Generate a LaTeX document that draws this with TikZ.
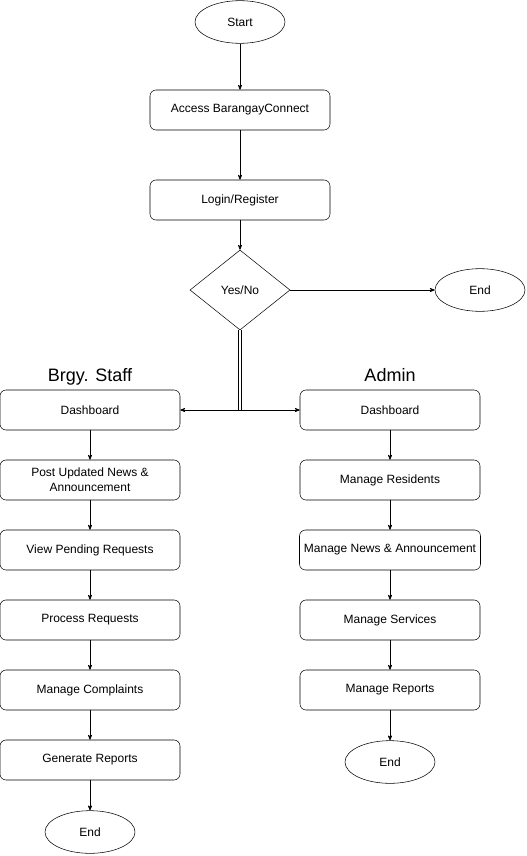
\documentclass[tikz,border=0pt]{standalone}
\usepackage{fontspec}
\setmainfont{Liberation Sans}
\usepackage{tikz}
\usetikzlibrary{shapes.geometric, positioning, arrows}
\tikzset{
->, % makes the edges directed
>=stealth', % arrow heads
line width=0.75pt,
node distance=67.5pt, % distance between the centres of two nodes
every node/.style={font=\fontsize{9}{11}\selectfont},
proc/.style={draw, rectangle, rounded corners=4.5pt, minimum width=135pt, minimum height=30pt, align=center}, % process boxes
term/.style={draw, ellipse, minimum width=67.5pt, minimum height=32pt}, % start and end
choice/.style={draw, diamond, minimum width=75pt, minimum height=60pt, inner sep=0pt}, % decision
title/.style={font=\fontsize{13.5}{16}\selectfont, text height=10pt, text depth=3pt}, % column headings
}

\begin{document}
\begin{tikzpicture}[x=0.75pt, y=-0.75pt]
    \useasboundingbox (0,0) rectangle (527,856);
    \node[term] (start) at (240,22) {Start};
    \node[proc, below of=start, yshift=1.5pt] (access) {Access BarangayConnect};
    \node[proc, below of=access] (login) {Login/Register};
    \node[choice, below of=login] (yn) {Yes/No};
    \node[term, right of=yn, node distance=180pt] (endr) {End};
    \node[proc, below of=yn, node distance=90pt, xshift=-112.5pt] (sdash) {Dashboard};
    \node[proc, below of=yn, node distance=90pt, xshift=112.5pt] (adash) {Dashboard};
    \node[title, above=0pt of sdash] {Brgy. Staff};
    \node[title, above=0pt of adash] {Admin};
    \begin{scope}[node distance=52.5pt]
    \node[proc, below of=sdash] (snews) {Post Updated News \&\\Announcement};
    \node[proc, below of=snews] (sreq) {View Pending Requests};
    \node[proc, below of=sreq] (sproc) {Process Requests};
    \node[proc, below of=sproc] (scomp) {Manage Complaints};
    \node[proc, below of=scomp] (srep) {Generate Reports};
    \node[term, below of=srep, yshift=-1.5pt] (sendl) {End};
    \node[proc, below of=adash] (ares) {Manage Residents};
    \node[proc, below of=ares] (anews) {Manage News \& Announcement};
    \node[proc, below of=anews] (aserv) {Manage Services};
    \node[proc, below of=aserv] (arep) {Manage Reports};
    \node[term, below of=arep, yshift=-1.5pt] (aend) {End};
    \end{scope}
    \draw
    (start) edge (access)
    (access) edge (login)
    (login) edge (yn)
    (yn) edge (endr)
    (sdash) edge (snews)
    (snews) edge (sreq)
    (sreq) edge (sproc)
    (sproc) edge (scomp)
    (scomp) edge (srep)
    (srep) edge (sendl)
    (adash) edge (ares)
    (ares) edge (anews)
    (anews) edge (aserv)
    (aserv) edge (arep)
    (arep) edge (aend);
    \draw[<->] (sdash) -- (adash);
    \draw[-, double, line width=0.6pt, double distance=1.8pt] (yn.south) -- (yn.south |- sdash.center);
  \end{tikzpicture}
\end{document}
